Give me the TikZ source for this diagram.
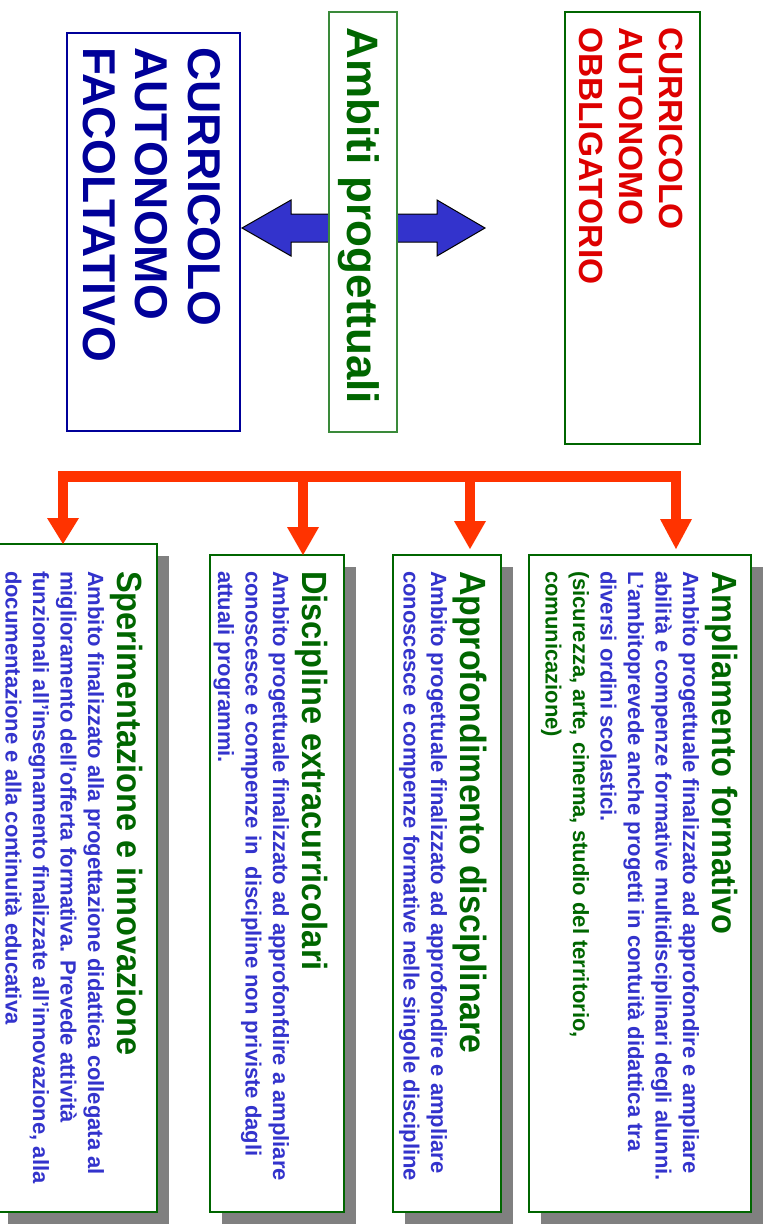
\documentclass[tikz,border=0pt]{standalone}
\usepackage{fontspec}
\setmainfont{Liberation Sans}
\newfontfamily\titlefont{Liberation Sans}[FakeStretch=0.93]
\usetikzlibrary{arrows.meta,shadows}
\definecolor{navy}{HTML}{000099}
\definecolor{dgreen}{HTML}{006600}
\definecolor{lgreen}{HTML}{3A8A3A}
\definecolor{cred}{HTML}{DD0000}
\definecolor{bblue}{HTML}{3333CC}
\definecolor{ored}{HTML}{FF3300}
\definecolor{sgray}{HTML}{808080}
\begin{document}
\begin{tikzpicture}[x=1pt, y=-1pt,
 vt/.style={rotate=-90, anchor=base west, inner sep=0pt, outer sep=0pt},
 capnavy/.style={vt, text=navy, font=\fontsize{46}{52}\selectfont\bfseries},
 ambt/.style={vt, text=dgreen, font=\fontsize{44}{50}\selectfont\bfseries},
 capred/.style={vt, text=cred, font=\fontsize{33.5}{40}\selectfont\bfseries},
 ttl/.style={vt, text=dgreen, font=\titlefont\fontsize{35}{42}\selectfont\bfseries},
 ttlbig/.style={vt, text=dgreen, font=\titlefont\fontsize{36.5}{42}\selectfont\bfseries},
 bod/.style={vt, text=bblue, font=\fontsize{22}{27.5}\selectfont\bfseries},
 bodg/.style={bod, text=dgreen},
 topbox/.style={fill=white, line width=1.3pt, inner sep=0pt},
 btmbox/.style={draw=dgreen, fill=white, line width=1.3pt, inner sep=0pt,
   drop shadow={shadow xshift=11.5pt, shadow yshift=-11.5pt, opacity=1, fill=sgray}},
 redbus/.style={draw=ored, line width=10.5pt, line join=miter},
 redtip/.style={-{Triangle[width=32pt, length=28pt, line width=0pt]}},
 redtips/.style={{Triangle[width=32pt, length=26pt, line width=0pt]}-{Triangle[width=32pt, length=30pt, line width=0pt]}},
 blockarrow/.style={fill=bblue, draw=black, line width=1pt, line join=miter}
]
\useasboundingbox (0,0) rectangle (771,1224);

% ---- top boxes ----
\node[topbox, draw=navy, minimum width=173pt, minimum height=398pt] (fac) at (153.5,232) {};
\node[topbox, draw=dgreen, minimum width=135pt, minimum height=432pt] (obb) at (632.5,228) {};

% double block arrow
\draw[blockarrow] (242,228) -- (291,200) -- (291,214) -- (437,214) -- (437,200)
  -- (485,228) -- (437,256) -- (437,242) -- (291,242) -- (291,256) -- cycle;

\node[topbox, draw=lgreen, minimum width=68pt, minimum height=420pt] (amb) at (363,222) {};

\node[capnavy] (fac1) at (188,47.5) {CURRICOLO};
\node[capnavy] (fac2) at (135.5,47.5) {AUTONOMO};
\node[capnavy] (fac3) at (83,47.5) {FACOLTATIVO};

\node[ambt] (ambtxt) at (347,27.7) {Ambiti progettuali};

\node[capred] (obb1) at (659,27) {CURRICOLO};
\node[capred] (obb2) at (619,27) {AUTONOMO};
\node[capred] (obb3) at (579,27) {OBBLIGATORIO};

% ---- bottom boxes ----
\node[btmbox, minimum width=161pt, minimum height=668pt] (sper) at (76.5,878) {};
\node[btmbox, minimum width=134pt, minimum height=657pt] (disc) at (277,883.5) {};
\node[btmbox, minimum width=108pt, minimum height=657pt] (appr) at (447,883.5) {};
\node[btmbox, minimum width=222pt, minimum height=657pt] (ampl) at (640,883.5) {};

% ---- red connectors ----
\coordinate (busL) at (63,476.5);
\coordinate (busR) at (676,476.5);
\coordinate (t1) at (63,544);
\coordinate (t2) at (303,555);
\coordinate (t3) at (470,549);
\coordinate (t4) at (676,549);
\draw[redbus, redtips] (t1) -- (busL) -- (busR) -- (t4);
\draw[redbus, redtip] (t2 |- busL) -- (t2);
\draw[redbus, redtip] (t3 |- busL) -- (t3);

% ---- texts: Ampliamento ----
\node[ttl] (amplT) at (712,571) {Ampliamento formativo};
\node[bod] (ampl1) at (683,571) {Ambito progettuale finalizzato ad approfondire e ampliare};
\node[bod] (ampl2) at (655.5,571) {abilità e compenze formative multidisciplinari degli alunni.};
\node[bod] (ampl3) at (628,571) {L’ambitoprevede anche progetti in contuità didattica tra};
\node[bod] (ampl4) at (600.5,571) {diversi ordini scolastici.};
\node[bodg] (ampl5) at (573,571) {(sicurezza, arte, cinema, studio del territorio,};
\node[bodg] (ampl6) at (545.5,571) {comunicazione)};

% ---- Approfondimento ----
\node[ttlbig] (apprT) at (460,571) {Approfondimento disciplinare};
\node[bod] (appr1) at (431,571) {Ambito progettuale finalizzato ad approfondire e ampliare};
\node[bod] (appr2) at (403.5,571) {conoscesce e compenze formative nelle singole discipline};

% ---- Discipline ----
\node[ttl] (discT) at (302,571) {Discipline extracurricolari};
\node[bod] (disc1) at (273,571) {Ambito progettuale finalizzato ad approfonfdire a ampliare};
\node[bod] (disc2) at (245.5,571) {conoscesce e compenze in\ \ discipline non priviste dagli};
\node[bod] (disc3) at (218,571) {attuali programmi.};

% ---- Sperimentazione ----
\node[ttl] (sperT) at (117,571) {Sperimentazione e innovazione};
\node[bod] (sper1) at (88,571) {Ambito finalizzato alla progettazione didattica collegata al};
\node[bod] (sper2) at (60.5,571) {miglioramento dell’offerta formativa. Prevede attività};
\node[bod] (sper3) at (33,571) {funzionali all’insegnamento finalizzate all’innovazione, alla};
\node[bod] (sper4) at (5.5,571) {documentazione e alla continuità educativa};
\end{tikzpicture}
\end{document}
